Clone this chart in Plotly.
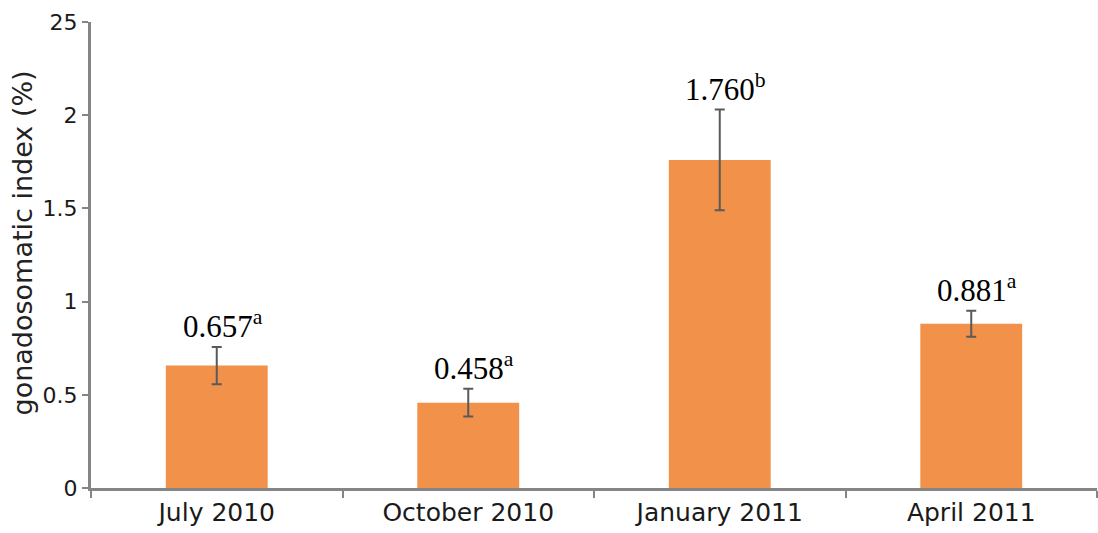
import plotly.graph_objects as go

categories = ["July 2010", "October 2010", "January 2011", "April 2011"]
values = [0.657, 0.458, 1.760, 0.881]
errors = [0.10, 0.075, 0.27, 0.07]
letters = ["a", "a", "b", "a"]
label_texts = ["0.657", "0.458", "1.760", "0.881"]
ytick_vals = [0, 0.5, 1, 1.5, 2, 2.5]
ytick_text = ["0", "0.5", "1", "1.5", "2", "25"]

AXIS = "#858585"
SANS = "DejaVu Sans"

fig = go.Figure()
fig.add_trace(go.Bar(
    x=categories, y=values, width=0.405,
    marker=dict(color="#F2914A", line=dict(width=0)),
    error_y=dict(type="data", array=errors, visible=True,
                 color="#5a5a5a", thickness=2, width=5),
    showlegend=False,
))

for c, v, e, t, l in zip(categories, values, errors, label_texts, letters):
    fig.add_annotation(
        x=c, y=v + e, text=f"{t}<sup>{l}</sup>", showarrow=False,
        xanchor="center", yanchor="bottom", yshift=1, xshift=6,
        font=dict(family="Liberation Serif", size=31, color="black"),
    )

fig.add_annotation(
    xref="paper", yref="paper", x=-0.068, y=0.526,
    text="gonadosomatic index (%)", textangle=-90, showarrow=False,
    xanchor="center", yanchor="middle",
    font=dict(family=SANS, size=27, color="#222222"),
)

fig.update_layout(
    width=1098, height=533,
    margin=dict(l=91, r=1, t=22, b=45),
    plot_bgcolor="white", paper_bgcolor="white",
    xaxis=dict(
        showline=True, linecolor=AXIS, linewidth=3,
        ticks="outside", tickson="boundaries", ticklen=7, tickwidth=2, tickcolor=AXIS,
        tickfont=dict(family=SANS, size=25, color="#1a1a1a"),
        showgrid=False, zeroline=False,
    ),
    yaxis=dict(
        range=[0, 2.5], tickvals=ytick_vals, ticktext=ytick_text,
        showline=True, linecolor=AXIS, linewidth=3,
        ticks="outside", ticklen=6, tickwidth=2, tickcolor=AXIS,
        tickfont=dict(family=SANS, size=22, color="#1a1a1a"),
        showgrid=False, zeroline=False,
    ),
)

fig.write_html("out.html")
